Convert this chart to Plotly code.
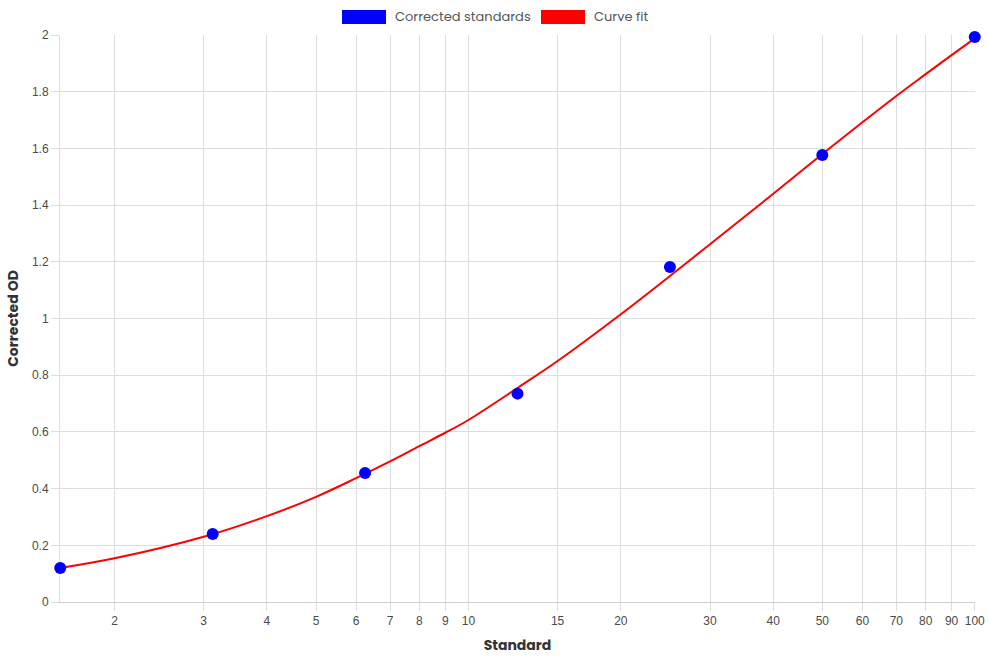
import plotly.graph_objects as go
import math

# Data
std_x = [1.5625, 3.125, 6.25, 12.5, 25, 50, 100]
std_y = [0.12, 0.24, 0.455, 0.735, 1.182, 1.577, 1.993]

fit_x = [1.5625, 2, 3, 4, 5, 6, 7, 8, 9, 10, 12.5, 15, 20, 25, 30, 40, 50, 60, 70, 80, 90, 100]
fit_y = [0.12, 0.154, 0.230, 0.303, 0.371, 0.437, 0.496, 0.550, 0.597, 0.642, 0.755, 0.850,
         1.015, 1.150, 1.262, 1.440, 1.580, 1.692, 1.785, 1.862, 1.929, 1.988]

x_ticks = [2, 3, 4, 5, 6, 7, 8, 9, 10, 15, 20, 30, 40, 50, 60, 70, 80, 90, 100]
x_tick_labels = [str(v) for v in x_ticks]

legend_names = ["Corrected standards", "Curve fit"]
legend_colors = ["#0000ff", "#ff0000"]

title_font = "Poppins, Inter, Open Sans, sans-serif"
tick_font = "Liberation Sans, Arial, sans-serif"

fig = go.Figure()
fig.add_trace(go.Scatter(
    x=fit_x, y=fit_y, mode="lines", name=legend_names[1],
    line=dict(color=legend_colors[1], width=2, shape="spline", smoothing=1.0),
    showlegend=False, cliponaxis=False))
fig.add_trace(go.Scatter(
    x=std_x, y=std_y, mode="markers", name=legend_names[0],
    marker=dict(color=legend_colors[0], size=12),
    showlegend=False, cliponaxis=False))

fig.update_layout(
    width=990, height=660,
    margin=dict(l=60, r=15, t=35, b=58),
    paper_bgcolor="white", plot_bgcolor="white",
    showlegend=False,
    xaxis=dict(
        type="log",
        range=[math.log10(std_x[0]) - 0.0005, math.log10(std_x[-1]) + 0.0005],
        tickvals=x_ticks, ticktext=x_tick_labels,
        showgrid=True, gridcolor="#dddddd", gridwidth=1,
        showline=True, linecolor="#d0d0d0", linewidth=1,
        ticks="outside", ticklen=8, tickcolor="#dddddd",
        tickfont=dict(family=tick_font, size=12, color="#4a4a4a"),
        title=dict(text="<b>Standard</b>", font=dict(family=title_font, size=14, color="#333333"), standoff=12),
        zeroline=False, automargin=False, layer="below traces",
    ),
    yaxis=dict(
        range=[0, 2], dtick=0.2, tick0=0,
        showgrid=True, gridcolor="#dddddd", gridwidth=1,
        showline=True, linecolor="#dddddd", linewidth=1,
        ticks="outside", ticklen=8, tickcolor="#dddddd",
        tickfont=dict(family=tick_font, size=12, color="#4a4a4a"),
        title=dict(text="<b>Corrected OD</b>", font=dict(family=title_font, size=14, color="#333333"), standoff=10),
        zeroline=False, automargin=False, layer="below traces",
    ),
)

# Legend drawn as swatches + labels at the top
swatch_x = [342, 541]
text_x = [393, 592]
for i in range(2):
    fig.add_shape(type="rect", xref="paper", yref="paper",
                  x0=(swatch_x[i] - 60) / 915, x1=(swatch_x[i] + 44 - 60) / 915,
                  y0=(602 - 24) / 567, y1=(602 - 10) / 567,
                  fillcolor=legend_colors[i], line=dict(width=0))
    fig.add_annotation(xref="paper", yref="paper",
                       x=(text_x[i] - 60) / 915, y=(602 - 17) / 567,
                       text=legend_names[i], showarrow=False,
                       xanchor="left", yanchor="middle",
                       font=dict(family=title_font, size=13, color="#555555"))

fig.write_html("out.html")
